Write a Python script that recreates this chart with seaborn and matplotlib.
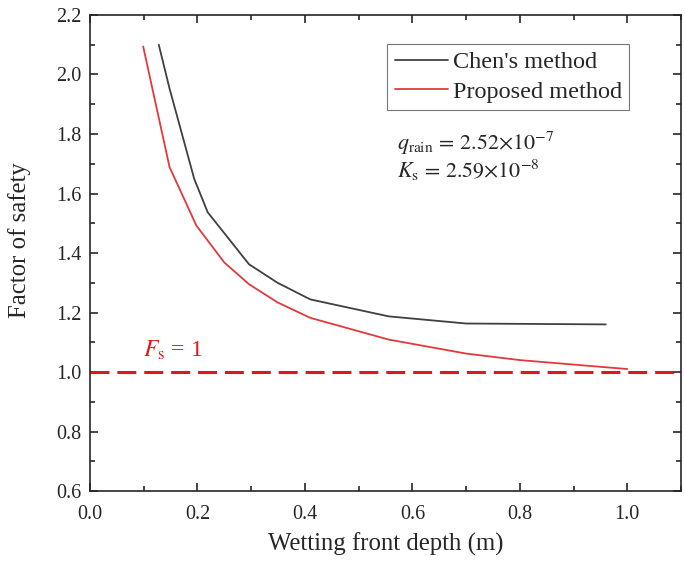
import numpy as np
import pandas as pd
import seaborn as sns
import matplotlib.pyplot as plt
from matplotlib.ticker import MultipleLocator

# ---- data ----
chen_x = [0.128, 0.148, 0.194, 0.219, 0.296, 0.349, 0.41, 0.556, 0.70, 0.96]
chen_y = [2.10, 1.953, 1.649, 1.537, 1.362, 1.30, 1.244, 1.187, 1.163, 1.160]
prop_x = [0.099, 0.148, 0.198, 0.25, 0.296, 0.349, 0.41, 0.556, 0.70, 0.80, 1.00]
prop_y = [2.094, 1.689, 1.492, 1.368, 1.295, 1.234, 1.182, 1.109, 1.062, 1.040, 1.010]

df = pd.concat([
    pd.DataFrame({"depth": chen_x, "fs": chen_y, "method": "Chen's method"}),
    pd.DataFrame({"depth": prop_x, "fs": prop_y, "method": "Proposed method"}),
])

sns.set_theme(style="ticks")
plt.rcParams['font.family'] = ['Liberation Serif', 'DejaVu Serif']
plt.rcParams['mathtext.fontset'] = 'stix'

fig = plt.figure(figsize=(6.85, 5.66), dpi=100)
ax = fig.add_axes([0.1314, 0.1325, 0.8628, 0.841])

sns.lineplot(data=df, x="depth", y="fs", hue="method", sort=False,
             palette={"Chen's method": "#404040", "Proposed method": "#e03a3a"},
             linewidth=1.3, ax=ax)
ax.axhline(1.0, color="#e0161b", linestyle=(0, (6.2, 2.6)), linewidth=2.2)

ax.set_xlim(0, 1.1)
ax.set_ylim(0.6, 2.2)
ax.xaxis.set_major_locator(MultipleLocator(0.2))
ax.xaxis.set_minor_locator(MultipleLocator(0.1))
ax.yaxis.set_major_locator(MultipleLocator(0.2))
ax.yaxis.set_minor_locator(MultipleLocator(0.1))
ax.tick_params(which="both", direction="in", top=True, right=True,
               labeltop=False, labelright=False, labelsize=14.5, width=1.2)
ax.tick_params(which="major", length=6)
ax.tick_params(which="minor", length=3.5)
ax.tick_params(axis="x", which="major", pad=10)
ax.tick_params(axis="y", which="major", pad=6)
for s in ax.spines.values():
    s.set_linewidth(1.2)

ax.set_xlabel("Wetting front depth (m)", fontsize=17.8)
ax.set_ylabel("Factor of safety", fontsize=17.8)
ax.xaxis.set_label_coords(0.5, -0.088)
ax.yaxis.set_label_coords(-0.10, 0.527)

leg = ax.legend(loc="upper left", bbox_to_anchor=(0.503, 0.939), fontsize=17.5,
                frameon=True, fancybox=False, edgecolor="#555555",
                handlelength=2.2, borderpad=0.3, labelspacing=0.3,
                handletextpad=0.2, borderaxespad=0)
leg.get_frame().set_linewidth(0.8)

ax.text(0.572, 1.746, r"$q_\mathrm{rain}\,\mathrm{=\,2.52{\times}10^{-7}}$", fontsize=15.8)
ax.text(0.572, 1.652, r"$K_\mathrm{s}\,\mathrm{=\,2.59{\times}10^{-8}}$", fontsize=15.8)
ax.text(0.099, 1.051, r"$F_\mathrm{s}$ = 1", fontsize=17, color="#e0161b")

fig.savefig("out.png", dpi=100)
